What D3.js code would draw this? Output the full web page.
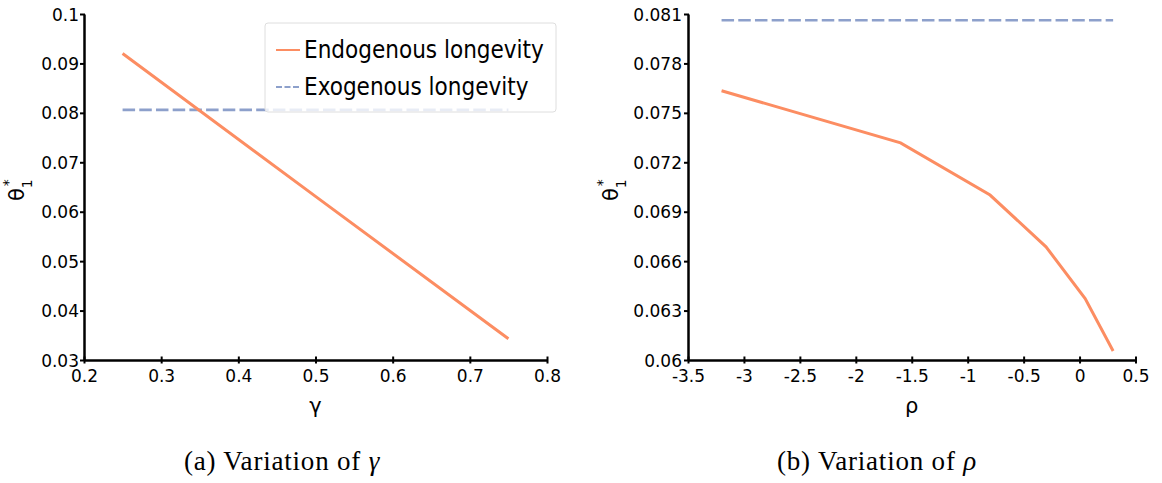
<!DOCTYPE html>
<html>
<head>
<meta charset="utf-8">
<script src="https://cdn.jsdelivr.net/npm/d3@7"></script>
<style>
  body { margin: 0; background: #fff; }
  svg { display: block; }
  .tick text { font-family: 'DejaVu Sans', Verdana, sans-serif; font-size: 17px; fill: #000; }
</style>
</head>
<body>
<div id="chart"></div>
<script>
// panel (a): variation of gamma
const gammaValues = [0.25, 0.5, 0.75]
const gammaEndo = [0.0920, 0.0631, 0.0343]
const gammaExoX = [0.25, 0.75]
const gammaExo = [0.0806, 0.0806]
const gammaXTicks = [0.2, 0.3, 0.4, 0.5, 0.6, 0.7, 0.8]
const gammaYTicks = [0.03, 0.04, 0.05, 0.06, 0.07, 0.08, 0.09, 0.1]

// panel (b): variation of rho
const rhoValues = [-3.2, -1.6, -0.8, -0.3, 0.05, 0.3]
const rhoEndo = [0.07634, 0.07318, 0.07001, 0.06687, 0.06373, 0.06055]
const rhoExoX = [-3.2, 0.3]
const rhoExo = [0.08062, 0.08062]
const rhoXTicks = [-3.5, -3, -2.5, -2, -1.5, -1, -0.5, 0, 0.5]
const rhoYTicks = [0.06, 0.063, 0.066, 0.069, 0.072, 0.075, 0.078, 0.081]

const seriesNames = ['Endogenous longevity', 'Exogenous longevity']

const width = 1162,
      height = 483

const orange = '#fc8d62',
      blue = '#8da0cb'

const svg = d3.select('#chart')
  .append('svg')
  .attr('width', width)
  .attr('height', height)

function drawPanel(opt) {
  const x = d3.scaleLinear().domain(opt.xDomain).range([opt.left, opt.right])
  const y = d3.scaleLinear().domain(opt.yDomain).range([360, 14])
  const g = svg.append('g')

  const xAxis = g.append('g')
    .attr('transform', 'translate(0,' + y.range()[0] + ')')
    .call(d3.axisBottom(x).tickValues(opt.xTicks).tickSize(0).tickPadding(0)
      .tickFormat(d => String(d)))
  xAxis.select('.domain').attr('stroke', '#000').attr('stroke-width', 2.5)
  xAxis.selectAll('.tick').append('line')
    .attr('y1', -3.5).attr('y2', 3.5).attr('stroke', '#000').attr('stroke-width', 2)
  xAxis.selectAll('.tick text').attr('y', 22).attr('dy', null)

  const yAxis = g.append('g')
    .attr('transform', 'translate(' + opt.left + ',0)')
    .call(d3.axisLeft(y).tickValues(opt.yTicks).tickSize(0).tickPadding(0)
      .tickFormat(d => String(+d.toFixed(3))))
  yAxis.select('.domain').attr('stroke', '#000').attr('stroke-width', 2.5)
  yAxis.selectAll('.tick').append('line')
    .attr('x1', -4).attr('x2', 1).attr('stroke', '#000').attr('stroke-width', 2)
  yAxis.selectAll('.tick text').attr('x', -opt.labelGap).attr('dy', '0.36em')

  const line = d3.line().x(d => x(d[0])).y(d => y(d[1]))

  g.append('path')
    .datum(d3.zip(opt.exoX, opt.exo))
    .attr('d', line)
    .attr('fill', 'none')
    .attr('stroke', blue)
    .attr('stroke-width', 2.6)
    .attr('stroke-dasharray', '12.5,4.2')

  g.append('path')
    .datum(d3.zip(opt.xs, opt.endo))
    .attr('d', line)
    .attr('fill', 'none')
    .attr('stroke', orange)
    .attr('stroke-width', 3)

  // y label theta_1^*
  const yl = g.append('text')
    .attr('transform', 'translate(' + opt.yLabelX + ',201) rotate(-90)')
    .attr('font-family', "'DejaVu Sans', Verdana, sans-serif")
    .attr('font-size', 21)
  yl.append('tspan').text('θ')
  yl.append('tspan').attr('font-size', 14).attr('dy', 8).text('1')
  yl.append('tspan').attr('font-size', 14).attr('dx', -7).attr('dy', -19).text('*')

  g.append('text')
    .attr('x', (opt.left + opt.right) / 2)
    .attr('y', 413)
    .attr('text-anchor', 'middle')
    .attr('font-family', "'DejaVu Sans', Verdana, sans-serif")
    .attr('font-size', 21)
    .text(opt.xLabel)

  const cap = g.append('text')
    .attr('x', opt.captionX)
    .attr('y', 470)
    .attr('text-anchor', 'middle')
    .attr('font-family', "'Liberation Serif', 'Times New Roman', serif")
    .attr('font-size', 27)
    .attr('letter-spacing', 0.8)
  cap.append('tspan').text(opt.caption)
  cap.append('tspan').attr('font-style', 'italic').text(opt.captionSym)

  return { x: x, y: y, g: g }
}

const panelA = drawPanel({
  left: 84, right: 547, xDomain: [0.2, 0.8], yDomain: [0.03, 0.1],
  xTicks: gammaXTicks, yTicks: gammaYTicks,
  xs: gammaValues, endo: gammaEndo, exoX: gammaExoX, exo: gammaExo,
  labelGap: 5, yLabelX: 24, xLabel: 'γ',
  captionX: 282, caption: '(a) Variation of ', captionSym: 'γ'
})

drawPanel({
  left: 688, right: 1135.5, xDomain: [-3.5, 0.5], yDomain: [0.06, 0.081],
  xTicks: rhoXTicks, yTicks: rhoYTicks,
  xs: rhoValues, endo: rhoEndo, exoX: rhoExoX, exo: rhoExo,
  labelGap: 6, yLabelX: 618, xLabel: 'ρ',
  captionX: 877, caption: '(b) Variation of ', captionSym: 'ρ'
})

// legend in panel (a)
const legend = panelA.g.append('g')
legend.append('rect')
  .attr('x', 265).attr('y', 23).attr('width', 291).attr('height', 89)
  .attr('rx', 3)
  .attr('fill', '#fff').attr('fill-opacity', 0.8)
  .attr('stroke', '#dedede').attr('stroke-width', 1)

const legendItems = legend.selectAll('.item')
  .data(seriesNames)
  .enter()
  .append('g')
  .attr('class', 'item')
  .attr('transform', (d, i) => 'translate(0,' + (50 + i * 37) + ')')

legendItems.append('line')
  .attr('x1', 276).attr('x2', 300)
  .attr('stroke', (d, i) => i === 0 ? orange : blue)
  .attr('stroke-width', 2)
  .attr('stroke-dasharray', (d, i) => i === 0 ? null : '6,2.5')

legendItems.append('text')
  .attr('x', 304).attr('y', 8)
  .attr('font-family', "'DejaVu Sans Condensed', 'DejaVu Sans', sans-serif")
  .attr('font-stretch', 'condensed')
  .attr('font-size', 24)
  .text(d => d)
</script>
</body>
</html>
